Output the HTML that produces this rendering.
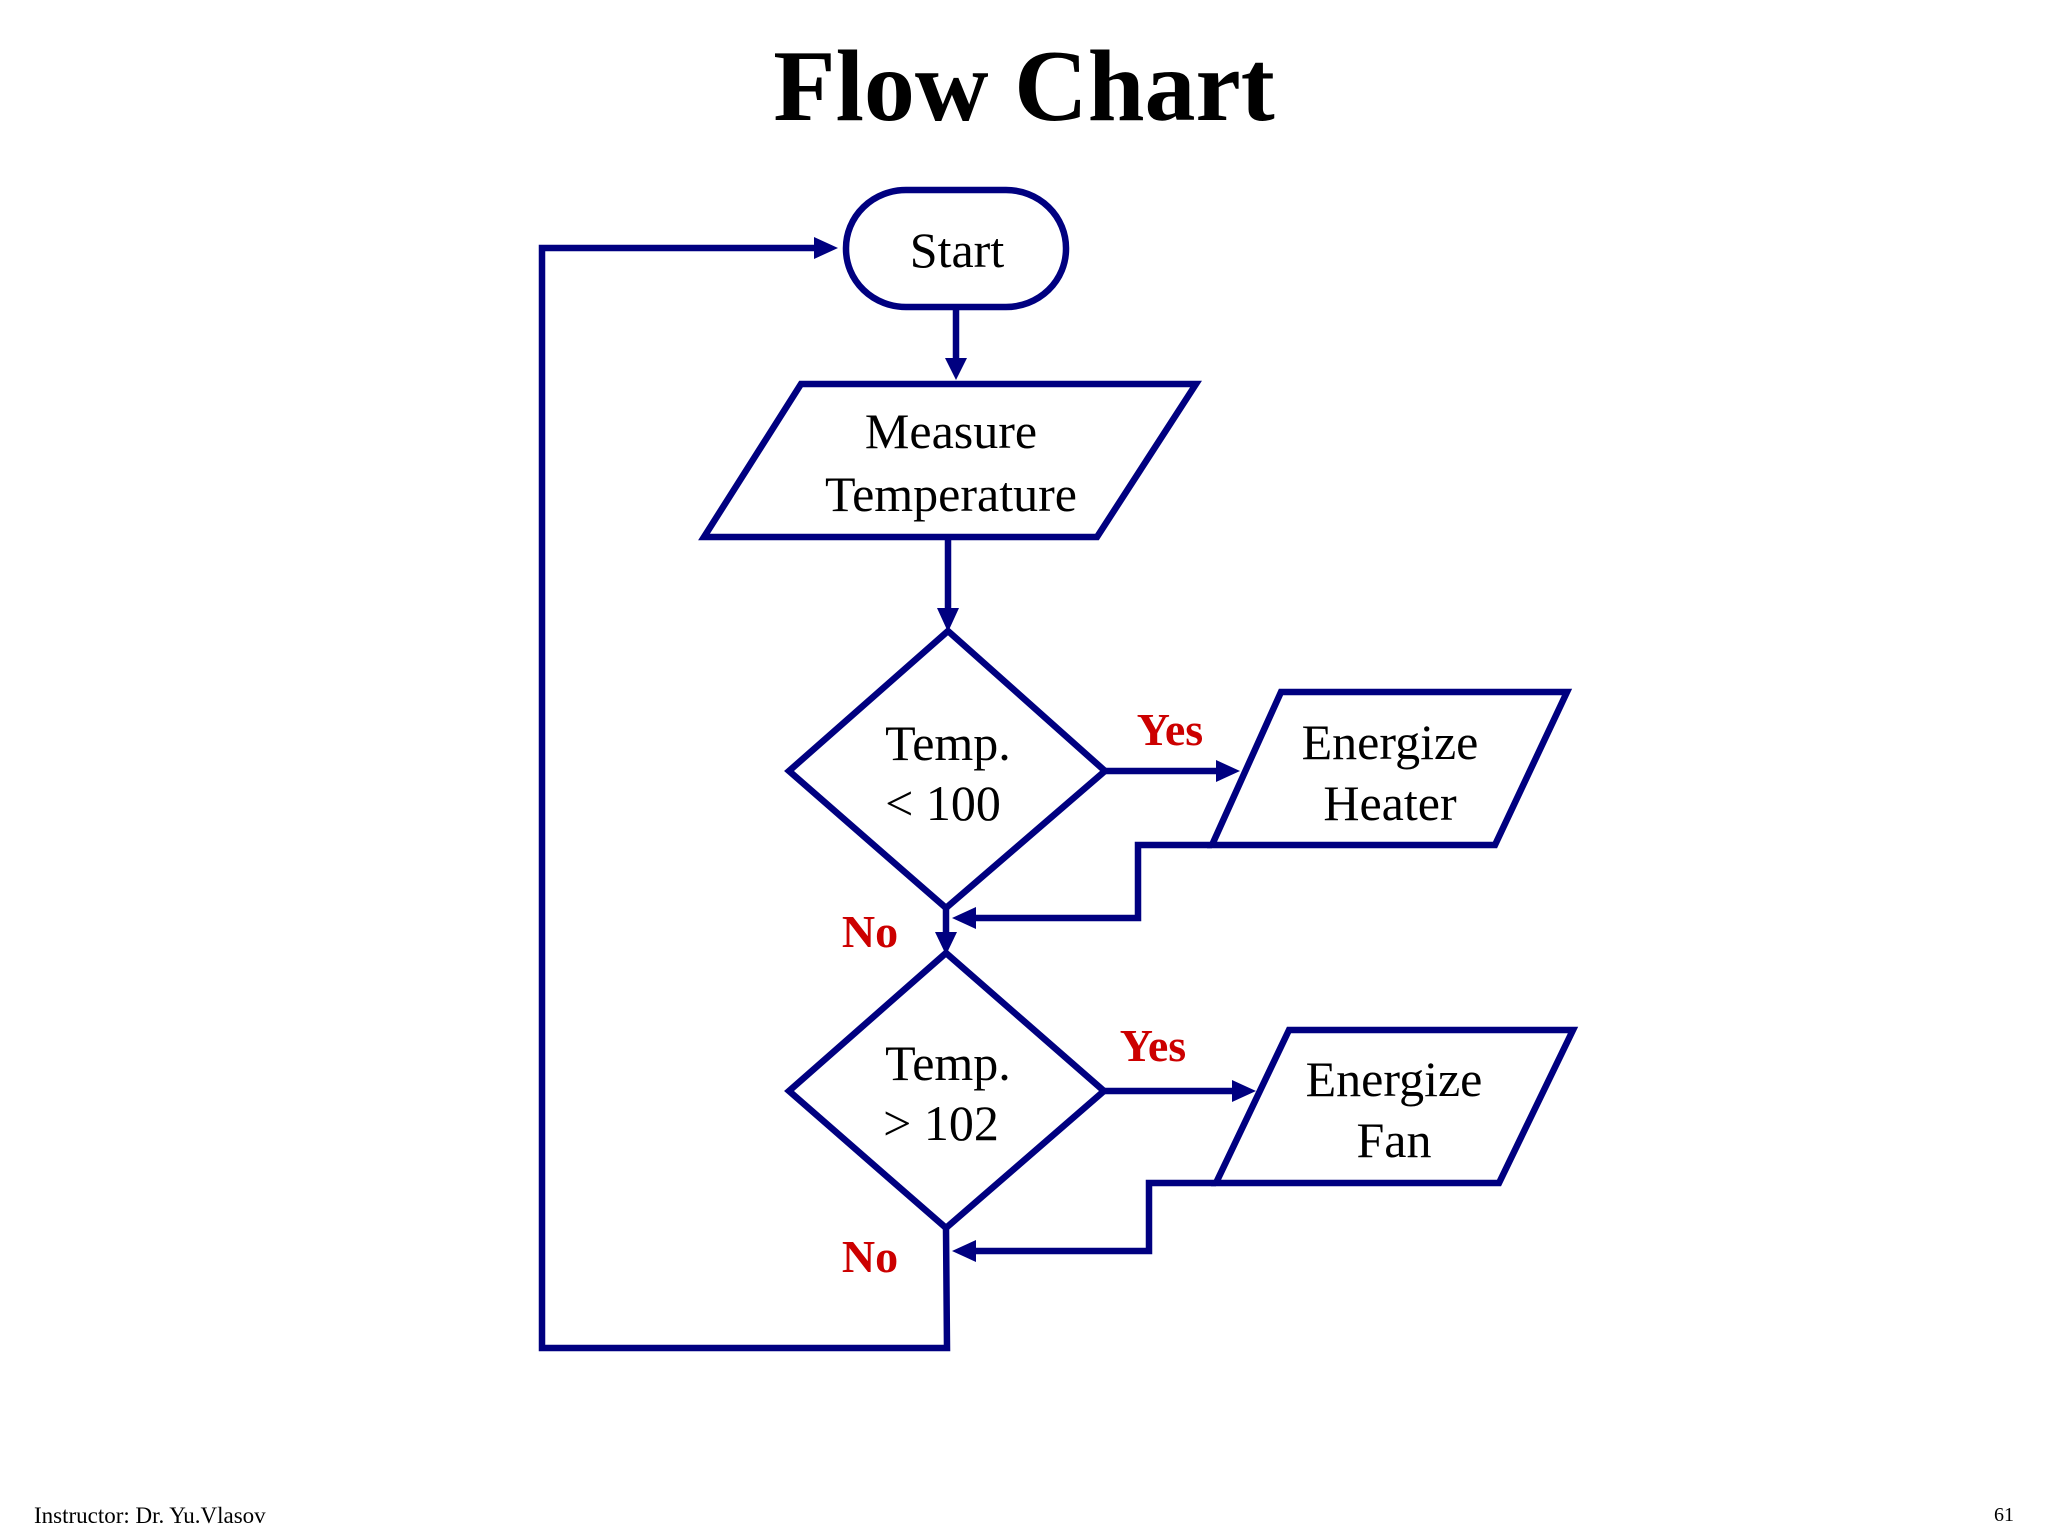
<!DOCTYPE html>
<html><head><meta charset="utf-8"><style>
html,body{margin:0;padding:0;background:#fff;}
svg{display:block;}
text{font-family:"Liberation Serif",serif;}
</style></head><body>
<svg width="2048" height="1536" viewBox="0 0 2048 1536" xmlns="http://www.w3.org/2000/svg">
<text x="1024" y="120" font-size="102" font-weight="bold" text-anchor="middle" fill="#000">Flow Chart</text>
<g fill="none" stroke="#000080" stroke-width="6.5" stroke-linejoin="miter">
<rect x="846" y="190" width="220" height="117" rx="60" ry="58" fill="#fff"/>
<polygon points="801,384 1196,384 1097,537 704,537" fill="#fff"/>
<polygon points="948,631 1105,771 946,908 789,771" fill="#fff"/>
<polygon points="946,953 1104,1091 946,1228 789,1091" fill="#fff"/>
<polygon points="1281,692 1567,692 1495,845 1212,845" fill="#fff"/>
<polygon points="1289,1030 1573,1030 1499,1183 1216,1183" fill="#fff"/>
<polyline points="956,307 956,362"/>
<polyline points="948,537 948,614"/>
<polyline points="1105,771 1222,771"/>
<polyline points="1212,845 1138,845 1138,918 972,918"/>
<polyline points="946,908 946,936"/>
<polyline points="1104,1091 1238,1091"/>
<polyline points="1216,1183 1149,1183 1149,1251 972,1251"/>
<polyline points="946,1228 947,1348 542,1348 542,248 820,248"/>
</g>
<g fill="#000080">
<polygon points="945,358 967,358 956,380"/>
<polygon points="937,608 959,608 948,632"/>
<polygon points="1216,760 1216,782 1240,771"/>
<polygon points="976,907 976,929 952,918"/>
<polygon points="935,932 957,932 946,955"/>
<polygon points="1232,1080 1232,1102 1256,1091"/>
<polygon points="976,1240 976,1262 952,1251"/>
<polygon points="814,237 814,259 838,248"/>
</g>
<g font-size="50" text-anchor="middle" fill="#000">
<text x="957" y="267">Start</text>
<text x="951" y="448">Measure</text>
<text x="951" y="511">Temperature</text>
<text x="948" y="760">Temp.</text>
<text x="943" y="820">&lt; 100</text>
<text x="948" y="1080">Temp.</text>
<text x="941" y="1140">&gt; 102</text>
<text x="1390" y="759">Energize</text>
<text x="1390" y="820">Heater</text>
<text x="1394" y="1096">Energize</text>
<text x="1394" y="1157">Fan</text>
</g>
<g font-size="46" font-weight="bold" fill="#cc0000" text-anchor="middle">
<text x="1170" y="745">Yes</text>
<text x="870" y="947">No</text>
<text x="1153" y="1061">Yes</text>
<text x="870" y="1272">No</text>
</g>
<text x="34" y="1523" font-size="23" fill="#000">Instructor: Dr. Yu.Vlasov</text>
<text x="2014" y="1521" font-size="20" fill="#000" text-anchor="end">61</text>
</svg>
</body></html>
